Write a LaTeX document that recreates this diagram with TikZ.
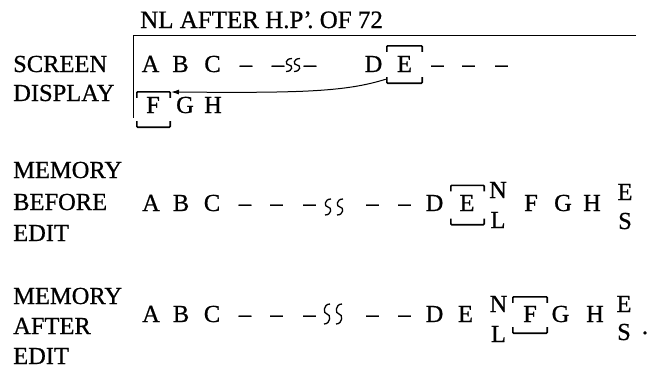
\documentclass[tikz,border=0pt]{standalone}
\usepackage{fontspec}
\setmainfont[FakeBold=0.7,AutoFakeBold=0.7]{Liberation Serif}
\usetikzlibrary{arrows.meta}
\newcommand\sqglyph[3]{%
  \draw[sq] ({#1+3},{#2-#3/2}) .. controls ({#1-4},{#2-#3/2}) and ({#1-4},{#2}) .. ({#1},{#2})
    .. controls ({#1+4},{#2}) and ({#1+4},{#2+#3/2}) .. ({#1-3},{#2+#3/2});}
\newcommand\brackets[1]{%
  \draw[brk] ([yshift=-6pt]#1.north west) -- (#1.north west) -- (#1.north east) -- ([yshift=-6pt]#1.north east);
  \draw[brk] ([yshift=6pt]#1.south west) -- (#1.south west) -- (#1.south east) -- ([yshift=6pt]#1.south east);}
\begin{document}
\begin{tikzpicture}[x=1pt,y=-1pt,
  lbl/.style={anchor=base west,inner sep=0pt,font=\fontsize{24.5}{28}\bfseries},
  ch/.style={anchor=base,inner sep=0pt,font=\fontsize{24.5}{28}\bfseries},
  brk/.style={line width=1.6pt,rounded corners=0.8pt},
  frame/.style={line width=1pt},
  sq/.style={line width=1.3pt},
  bx/.style={draw=none,inner sep=0pt,minimum width=#1},
  bx/.default=35pt]
\useasboundingbox (0,0) rectangle (649,368);
% heading and frame
\node[lbl,font=\fontsize{25}{29}\bfseries] (head) at (140,28) {NL AFTER H.P’\kern-0.18em. OF 72};
\draw[frame] (636,35) -- (133,35) -- (133,118);
% labels
\node[lbl] (l1) at (13,72) {SCREEN};
\node[lbl] (l2) at (13,101) {DISPLAY};
\node[lbl] (l3) at (13,178) {MEMORY};
\node[lbl] (l4) at (13,210) {BEFORE};
\node[lbl] (l5) at (13,241) {EDIT};
\node[lbl] (l6) at (13,304) {MEMORY};
\node[lbl] (l7) at (13,334) {AFTER};
\node[lbl] (l8) at (13,364) {EDIT};
% screen row 1
\node[ch] (s1a) at (150.5,72) {A};
\node[ch] (s1b) at (180.5,72) {B};
\node[ch] (s1c) at (212.5,72) {C};
\node[ch] (s1d1) at (246,72) {–};
\node[ch] (s1d2) at (278,72) {–};
\sqglyph{289}{65}{13}
\sqglyph{297}{65}{13}
\node[ch] (s1d3) at (310,72) {–};
\node[ch] (s1D) at (373.5,72) {D};
\node[ch] (s1E) at (404.5,72) {E};
\node[bx] (Eb) at (404.5,64.5) [minimum height=37pt] {};
\brackets{Eb}
\node[ch] (s1d4) at (437.5,72) {–};
\node[ch] (s1d5) at (468.5,72) {–};
\node[ch] (s1d6) at (501.5,72) {–};
% screen row 2
\node[ch] (s2F) at (153,113) {F};
\node[ch] (s2G) at (185,113) {G};
\node[ch] (s2H) at (213,113) {H};
\node[bx=33pt] (Fb) at (153.5,109.5) [minimum height=35pt] {};
\brackets{Fb}
\coordinate (tip) at (171,92);
\draw[frame,-{Latex[length=8pt,width=5pt]}] ([shift={(-1pt,4pt)}]Eb.south west) .. controls (345,92) and (300,93) .. (tip);
% memory before
\node[ch] (b1) at (151,211) {A};
\node[ch] (b2) at (181,211) {B};
\node[ch] (b3) at (212,211) {C};
\node[ch] (b4) at (245,211) {–};
\node[ch] (b5) at (276.5,211) {–};
\node[ch] (b6) at (309.5,211) {–};
\sqglyph{328}{207}{16}
\sqglyph{340}{207}{16}
\node[ch] (b7) at (372.5,211) {–};
\node[ch] (b8) at (404.5,211) {–};
\node[ch] (b9) at (434.5,211) {D};
\node[ch] (b10) at (467,211) {E};
\node[bx=33pt] (Eb2) at (467.5,205) [minimum height=39pt] {};
\brackets{Eb2}
\node[ch] (b11) at (498,198) {N};
\node[ch] (b12) at (498,228) {L};
\node[ch] (b13) at (531,211) {F};
\node[ch] (b14) at (563,211) {G};
\node[ch] (b15) at (592,211) {H};
\node[ch] (b16) at (625,200) {E};
\node[ch] (b17) at (625,229) {S};
% memory after
\node[ch] (a1) at (151,322) {A};
\node[ch] (a2) at (181,322) {B};
\node[ch] (a3) at (212,322) {C};
\node[ch] (a4) at (245,322) {–};
\node[ch] (a5) at (276.5,322) {–};
\node[ch] (a6) at (309.5,322) {–};
\sqglyph{327}{314}{20}
\sqglyph{339}{314}{20}
\node[ch] (a7) at (372.5,322) {–};
\node[ch] (a8) at (404.5,322) {–};
\node[ch] (a9) at (434.5,322) {D};
\node[ch] (a10) at (465.5,322) {E};
\node[ch] (a11) at (498.5,312) {N};
\node[ch] (a12) at (498.5,342) {L};
\node[ch] (a13) at (530,322) {F};
\node[bx=34pt] (Fb2) at (530,315) [minimum height=36pt] {};
\brackets{Fb2}
\node[ch] (a14) at (560.5,322) {G};
\node[ch] (a15) at (595,322) {H};
\node[ch] (a16) at (624,312) {E};
\node[ch] (a17) at (624,340) {S};
\node[ch] (a18) at (645,334) {.};
\end{tikzpicture}
\end{document}
